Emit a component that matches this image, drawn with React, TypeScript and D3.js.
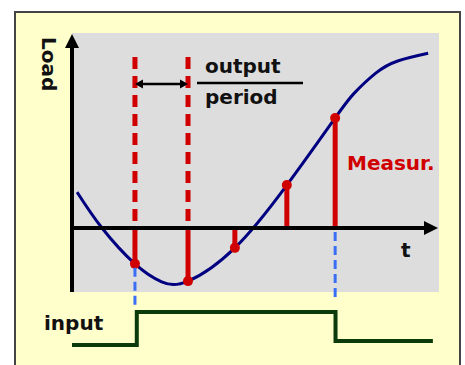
import React, { useRef, useEffect } from 'react';
import * as d3 from 'd3';

// load curve (t in 0..100, load in axis units, 0 = t axis)
const curveT = [1.4, 8.2, 17.2, 24.5, 31.7, 44.5, 58.7, 71.9, 77.0, 83.0, 89.0, 97.3];
const curveLoad = [0.56, 0, -0.56, -0.84, -0.83, -0.31, 0.67, 1.72, 2.10, 2.42, 2.61, 2.73];

// measurement samples
const sampleT = [17.2, 31.7, 44.5, 58.7, 71.9];
const sampleLoad = [-0.56, -0.83, -0.31, 0.67, 1.72];

// the two samples that mark the output period, and how high their dashes go
const periodIdx = [0, 1];
const periodTop = 2.67;

// blue guides from samples down to the input edges
const guideIdx = [0, 4];
const guideFrom = [-0.56, 0];
const guideTo = [-1.23, -1.11];

// input step signal
const inputT = [0, 17.7, 72.0, 98.6];
const inputLevel = [0, 1, 0.12, 0.12];

const labels = { load: 'Load', t: 't', output: 'output', period: 'period', measur: 'Measur.', input: 'input' };

const W = 465;
const H = 365;

const Chart = () => {
    const svg = useRef<SVGSVGElement>(null);

    useEffect(() => {
        const root = d3.select(svg.current);
        root.selectAll('*').remove();

        const x = d3.scaleLinear().domain([0, 100]).range([72, 438]);
        const y = d3.scaleLinear().domain([-1, 3]).range([292, 36]);
        const yIn = d3.scaleLinear().domain([0, 1]).range([345, 312]);

        const red = '#d00000';
        const font = 'DejaVu Sans, Verdana, sans-serif';

        // outer frame and plot background
        root.append('rect')
            .attr('x', 15).attr('y', 12)
            .attr('width', 445).attr('height', 370)
            .attr('fill', '#ffffcc')
            .attr('stroke', '#444').attr('stroke-width', 2);

        root.append('rect')
            .attr('x', x(0)).attr('y', 33)
            .attr('width', 367).attr('height', y(-1) - 33)
            .attr('fill', '#dddddd');

        // dashed red period markers above the axis
        periodIdx.forEach(i => {
            root.append('line')
                .attr('x1', x(sampleT[i])).attr('x2', x(sampleT[i]))
                .attr('y1', y(periodTop)).attr('y2', y(0))
                .attr('stroke', red).attr('stroke-width', 5)
                .attr('stroke-dasharray', '12,7');
        });

        // solid red measurement stems
        sampleT.forEach((t, i) => {
            root.append('line')
                .attr('x1', x(t)).attr('x2', x(t))
                .attr('y1', y(0)).attr('y2', y(sampleLoad[i]))
                .attr('stroke', red).attr('stroke-width', 5);
        });

        // load curve
        const line = d3.line<number>()
            .x((d, i) => x(curveT[i]))
            .y(d => y(d))
            .curve(d3.curveNatural);

        root.append('path')
            .datum(curveLoad)
            .attr('d', line)
            .attr('fill', 'none')
            .attr('stroke', '#000080')
            .attr('stroke-width', 3);

        // sample dots
        root.selectAll('circle.sample')
            .data(sampleT)
            .join('circle')
            .attr('class', 'sample')
            .attr('cx', d => x(d))
            .attr('cy', (d, i) => y(sampleLoad[i]))
            .attr('r', 5)
            .attr('fill', red);

        // blue guides
        guideIdx.forEach((s, k) => {
            root.append('line')
                .attr('x1', x(sampleT[s])).attr('x2', x(sampleT[s]))
                .attr('y1', y(guideFrom[k]) + 4).attr('y2', y(guideTo[k]))
                .attr('stroke', '#3a6ef5').attr('stroke-width', 3)
                .attr('stroke-dasharray', '9,5');
        });

        // axes with arrow heads
        root.append('line')
            .attr('x1', x(0)).attr('x2', 428)
            .attr('y1', y(0)).attr('y2', y(0))
            .attr('stroke', '#000').attr('stroke-width', 4);
        root.append('path')
            .attr('d', `M438,${y(0)} L424,${y(0) - 7} L424,${y(0) + 7} Z`)
            .attr('fill', '#000');

        root.append('line')
            .attr('x1', x(0)).attr('x2', x(0))
            .attr('y1', y(-1)).attr('y2', 45)
            .attr('stroke', '#000').attr('stroke-width', 4);
        root.append('path')
            .attr('d', `M${x(0)},34 L${x(0) - 7},48 L${x(0) + 7},48 Z`)
            .attr('fill', '#000');

        // input step
        const step = d3.line<number>()
            .x((d, i) => x(inputT[i]))
            .y(d => yIn(d))
            .curve(d3.curveStepAfter);

        root.append('path')
            .datum(inputLevel)
            .attr('d', step)
            .attr('fill', 'none')
            .attr('stroke', '#0b3a0b')
            .attr('stroke-width', 4);

        // output period arrow and divider
        const ay = 84;
        const x1 = x(sampleT[0]);
        const x2 = x(sampleT[1]);
        root.append('line')
            .attr('x1', x1 + 4).attr('x2', x2 - 4)
            .attr('y1', ay).attr('y2', ay)
            .attr('stroke', '#000').attr('stroke-width', 2.5);
        root.append('path')
            .attr('d', `M${x1},${ay} L${x1 + 8},${ay - 4.5} L${x1 + 8},${ay + 4.5} Z M${x2},${ay} L${x2 - 8},${ay - 4.5} L${x2 - 8},${ay + 4.5} Z`)
            .attr('fill', '#000');

        root.append('line')
            .attr('x1', 197).attr('x2', 303)
            .attr('y1', 83).attr('y2', 83)
            .attr('stroke', '#000').attr('stroke-width', 2.5);

        // texts
        const text = (s, tx, ty, color = '#111') => root.append('text')
            .attr('x', tx).attr('y', ty)
            .attr('font-family', font)
            .attr('font-weight', 'bold')
            .attr('font-size', 20)
            .attr('fill', color)
            .text(s);

        text(labels.output, 205, 73);
        text(labels.period, 205, 104);
        text(labels.measur, 347, 170, red);
        text(labels.t, 401, 257);
        text(labels.input, 44, 330);
        text(labels.load, 0, 0).attr('transform', 'translate(42, 37) rotate(90)');
    }, []);

    return (
        <svg
            width={W}
            height={H}
            ref={svg}
            style={{ position: 'absolute', left: 0, top: 0, background: '#fff' }}
        >
        </svg>
    );
};

export default function App() {
    return <Chart />;
}
